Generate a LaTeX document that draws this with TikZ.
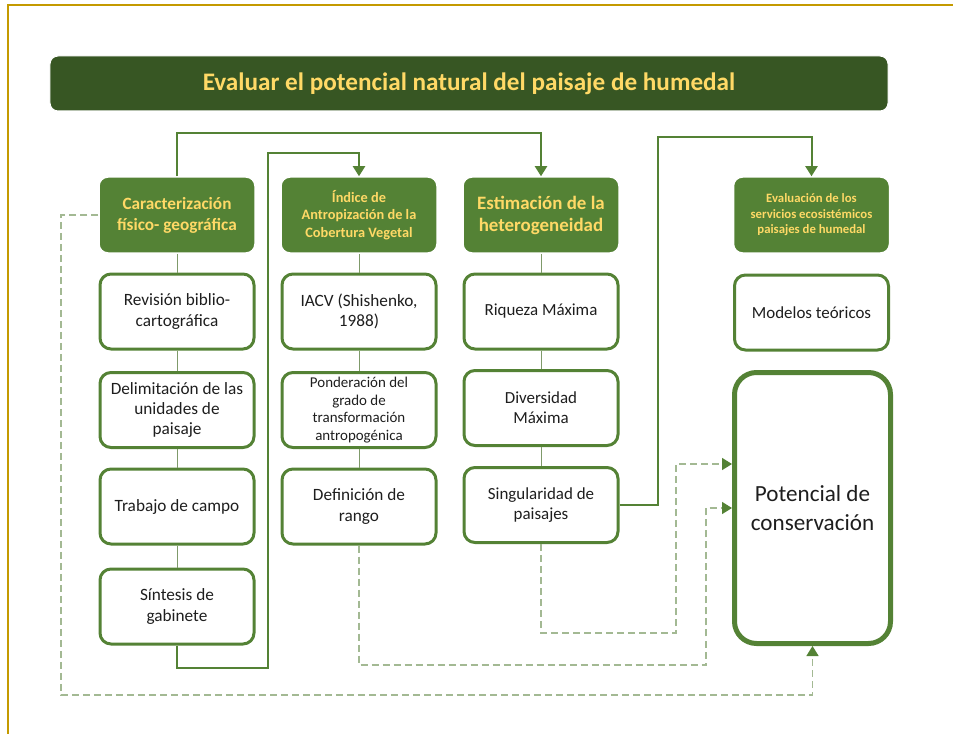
\documentclass[tikz,border=0pt]{standalone}
\usepackage{fontspec}
\setmainfont{Carlito}
\usetikzlibrary{arrows.meta}
\definecolor{gold}{HTML}{C49A00}
\definecolor{dkgreen}{HTML}{375623}
\definecolor{mgreen}{HTML}{548235}
\definecolor{ylw}{HTML}{FFD966}
\definecolor{lgreen}{HTML}{A3B993}
\definecolor{cgreen}{HTML}{7F9A6A}
\definecolor{txt}{HTML}{1E1E1E}
\newcommand{\fs}[2]{\fontsize{#1}{#2}\selectfont}
\begin{document}
\begin{tikzpicture}[x=1bp,y=-1bp,
 hdr/.style={fill=mgreen, draw=white, line width=1.5bp, rounded corners=9bp, minimum width=156bp, minimum height=76bp, inner sep=0pt, align=center, text=ylw},
 box/.style={fill=white, draw=mgreen, line width=3bp, rounded corners=11bp, minimum width=154bp, minimum height=75bp, inner sep=0pt, align=center, text=txt},
 link/.style={draw=cgreen, line width=1bp},
 flow/.style={draw=mgreen, line width=2bp, -{Triangle[width=12bp,length=10bp]}},
 dashlink/.style={draw=lgreen, line width=1.5bp, dash pattern=on 7bp off 4bp, -{Triangle[width=12bp,length=10bp,color=mgreen]}}
]
\useasboundingbox (0,0) rectangle (953,734);
\draw[gold, line width=2.5bp] (8,734) -- (8,5) -- (953,5);

% title
\node[fill=dkgreen, draw=white, line width=1bp, rounded corners=8bp, minimum width=838bp, minimum height=55bp, inner sep=0pt, text=ylw, font=\bfseries\fs{25.3}{29}] (title) at (469,83.5) {Evaluar el potencial natural del paisaje de humedal};

% headers
\node[hdr, font=\bfseries\fs{17.3}{21}] (c1h) at (177,215) {Caracterización\\físico- geográfica};
\node[hdr, font=\bfseries\fs{14.4}{17.5}] (c2h) at (359,215) {Índice de\\Antropización de la\\Cobertura Vegetal};
\node[hdr, font=\bfseries\fs{19}{22}] (c3h) at (541,215) {Estimación de la\\heterogeneidad};
\node[hdr, font=\bfseries\fs{12.8}{15.5}] (c4h) at (811.5,215) {Evaluación de los\\servicios ecosistémicos\\paisajes de humedal};

% column 1
\node[box, font=\fs{17.3}{20.5}] (rev) at (177,311.5) {Revisión biblio-\\cartográfica};
\node[box, font=\fs{17.3}{20.5}] (del) at (177,410) {Delimitación de las\\unidades de\\paisaje};
\node[box, font=\fs{17.3}{20.5}] (tra) at (177,506.5) {Trabajo de campo};
\node[box, font=\fs{17.3}{20.5}] (sin) at (177,606.5) {Síntesis de\\gabinete};

% column 2
\node[box, font=\fs{17.3}{20.5}] (iacv) at (359,311.5) {IACV (Shishenko,\\1988)};
\node[box, font=\fs{15}{17.5}] (pon) at (359,410) {Ponderación del\\grado de\\transformación\\antropogénica};
\node[box, font=\fs{17.3}{20.5}] (def) at (359,506.5) {Definición de\\rango};

% column 3
\node[box, font=\fs{17}{20}] (riq) at (541,311.5) {Riqueza Máxima};
\node[box, font=\fs{17}{20}] (div) at (541,408) {Diversidad\\Máxima};
\node[box, font=\fs{17}{20}] (sing) at (541,505) {Singularidad de\\paisajes};

% column 4
\node[box, font=\fs{17}{20}] (mod) at (811.5,312.5) {Modelos teóricos};
\node[box, line width=5bp, rounded corners=22bp, minimum width=156bp, minimum height=271bp, font=\fs{23.2}{29}] (pot) at (812.5,508) {Potencial de\\conservación};

% thin links
\draw[link] (c1h.south) -- (rev.north);
\draw[link] (rev.south) -- (del.north);
\draw[link] (del.south) -- (tra.north);
\draw[link] (tra.south) -- (sin.north);
\draw[link] (c2h.south) -- (iacv.north);
\draw[link] (iacv.south) -- (pon.north);
\draw[link] (pon.south) -- (def.north);
\draw[link] (c3h.south) -- (riq.north);
\draw[link] (riq.south) -- (div.north);
\draw[link] (div.south) -- (sing.north);

% solid flows
\coordinate (a1) at (177,133);
\draw[flow] (c1h.north) -- (a1) -| (c3h.north);
\coordinate (b1) at (177,668);
\coordinate (b2) at (268,668);
\coordinate (b3) at (268,153);
\draw[flow] (sin.south) -- (b1) -- (b2) -- (b3) -| (c2h.north);
\coordinate (d1) at (658,505);
\coordinate (d2) at (658,137);
\draw[flow] (sing.east) -- (d1) -- (d2) -| (c4h.north);

% dashed flows
\coordinate (e1) at (61,215);
\coordinate (e2) at (61,695);
\draw[dashlink] (c1h.west) -- (e1) -- (e2) -| (pot.south);
\coordinate (f1) at (359,665);
\coordinate (f2) at (706,665);
\coordinate (f3) at (706,508);
\draw[dashlink] (def.south) -- (f1) -- (f2) -- (f3) -- (pot.west |- f3);
\coordinate (g1) at (541,633);
\coordinate (g2) at (676,633);
\coordinate (g3) at (676,464);
\draw[dashlink] (sing.south) -- (g1) -- (g2) -- (g3) -- (pot.west |- g3);
\end{tikzpicture}
\end{document}
